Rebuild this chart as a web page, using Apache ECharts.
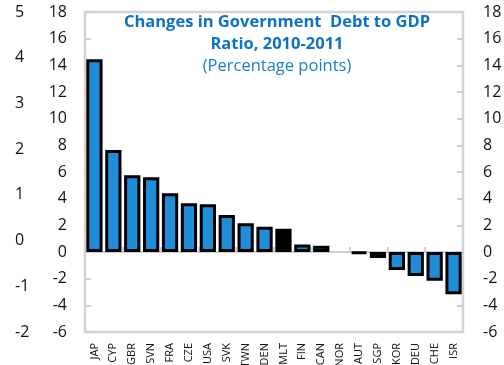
<!DOCTYPE html>
<html>
<head>
<meta charset="utf-8">
<script src="https://cdn.jsdelivr.net/npm/echarts@6/dist/echarts.min.js"></script>
<style>
  html, body { margin: 0; padding: 0; background: #fff; }
  #chart { width: 504px; height: 365px; }
</style>
</head>
<body>
<div id="chart"></div>
<script>
// countries, in the order of the bars
var categories = ['JAP', 'CYP', 'GBR', 'SVN', 'FRA', 'CZE', 'USA', 'SVK', 'TWN', 'DEN',
  'MLT', 'FIN', 'CAN', 'NOR', 'AUT', 'SGP', 'KOR', 'DEU', 'CHE', 'ISR'];
// change in debt/GDP, percentage points
var values = [14.45, 7.65, 5.75, 5.6, 4.4, 3.65, 3.58, 2.78, 2.16, 1.9,
  1.75, 0.57, 0.47, 0, -0.1, -0.45, -1.35, -1.8, -2.15, -3.17];
var highlighted = 'MLT';
// odd secondary scale shown on the far left
var outerTicks = [-2, -1, 0, 1, 2, 3, 4, 5];

var dom = echarts.init(document.getElementById('chart'));

var barData = values.map(function (v, i) {
  var item = { value: v };
  if (categories[i] === highlighted) {
    item.itemStyle = { color: '#000' };
  }
  if (v === 0) {
    item.itemStyle = { borderWidth: 0, opacity: 0 };
  }
  return item;
});

var font = 'Open Sans';

var option = {
  animation: false,
  textStyle: { fontFamily: font },
  title: {
    text: 'Changes in Government  Debt to GDP\nRatio, 2010-2011',
    subtext: '(Percentage points)',
    left: 277,
    top: 11,
    textAlign: 'center',
    itemGap: 0,
    padding: 0,
    textStyle: {
      fontFamily: font,
      fontSize: 16.5,
      fontWeight: 'bold',
      color: '#0e72c4',
      lineHeight: 22
    },
    subtextStyle: {
      fontFamily: font,
      fontSize: 16.5,
      color: '#1a7ad0',
      lineHeight: 22
    }
  },
  grid: {
    left: 85,
    right: 41,
    top: 12,
    bottom: 33,
    show: true,
    borderColor: '#d3d3d3',
    borderWidth: 2.5,
    containLabel: false,
    outerBoundsMode: 'none'
  },
  xAxis: [
    {
      type: 'category',
      data: categories,
      position: 'bottom',
      axisLine: { onZero: true, lineStyle: { color: '#cfcfcf', width: 2 } },
      axisTick: { show: true, inside: true, length: 5, lineStyle: { color: '#cfcfcf', width: 2 } },
      axisLabel: { show: false }
    },
    {
      type: 'category',
      data: categories,
      position: 'bottom',
      axisLine: { show: false, onZero: false },
      axisTick: { show: false },
      axisLabel: {
        show: true,
        rotate: 90,
        margin: 11,
        interval: 0,
        fontSize: 11,
        color: '#111',
        fontFamily: font
      }
    }
  ],
  yAxis: [
    {
      type: 'value',
      position: 'left',
      min: -6,
      max: 18,
      interval: 2,
      axisLine: { show: false },
      axisTick: { show: true, inside: true, length: 6, lineStyle: { color: '#cfcfcf', width: 2 } },
      axisLabel: { margin: 18, fontSize: 16, color: '#111', fontFamily: font },
      splitLine: { show: false }
    },
    {
      type: 'value',
      position: 'right',
      min: -6,
      max: 18,
      interval: 2,
      axisLine: { show: false },
      axisTick: { show: true, inside: true, length: 6, lineStyle: { color: '#cfcfcf', width: 2 } },
      axisLabel: { margin: 20, fontSize: 16, color: '#111', fontFamily: font },
      splitLine: { show: false }
    },
    {
      type: 'value',
      position: 'left',
      offset: 72,
      min: outerTicks[0],
      max: outerTicks[outerTicks.length - 1],
      interval: 1,
      axisLine: { show: false },
      axisTick: { show: false },
      axisLabel: { inside: true, margin: 2, fontSize: 16, color: '#111', fontFamily: font },
      splitLine: { show: false }
    }
  ],
  series: [
    {
      name: 'Change',
      type: 'bar',
      xAxisIndex: 0,
      yAxisIndex: 0,
      data: barData,
      barWidth: '86%',
      itemStyle: {
        color: '#1f8dd8',
        borderColor: '#000',
        borderWidth: 3
      }
    }
  ]
};

dom.setOption(option);
</script>
</body>
</html>
